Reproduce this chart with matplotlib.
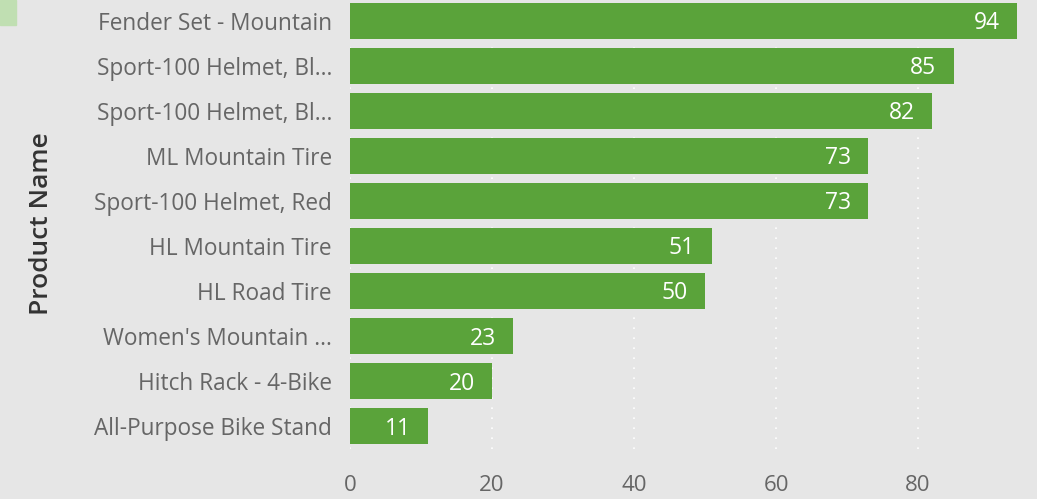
import matplotlib
matplotlib.use("Agg")
import matplotlib.pyplot as plt
import matplotlib.patches as mpatches

# data, top to bottom
products = [
    "Fender Set - Mountain",
    "Sport-100 Helmet, Bl...",
    "Sport-100 Helmet, Bl...",
    "ML Mountain Tire",
    "Sport-100 Helmet, Red",
    "HL Mountain Tire",
    "HL Road Tire",
    "Women's Mountain ...",
    "Hitch Rack - 4-Bike",
    "All-Purpose Bike Stand",
]
quantities = [94, 85, 82, 73, 73, 51, 50, 23, 20, 11]
x_ticks = [0, 20, 40, 60, 80]

BG = "#e6e6e6"
GREEN = "#5aa33a"
FONT = ["Open Sans", "DejaVu Sans"]

fig = plt.figure(figsize=(10.37, 4.99), dpi=100)
fig.patch.set_facecolor(BG)
ax = fig.add_axes([350 / 1037, 1 - 449 / 499, 687 / 1037, 451 / 499])
ax.set_facecolor(BG)

ypos = list(range(len(products)))
ax.barh(ypos, quantities, height=0.8, color=GREEN, zorder=2)
ax.set_ylim(len(products) - 0.5, -0.5)
ax.set_xlim(0, 96.76)

for y, v in zip(ypos, quantities):
    ax.text(v - 2.4, y + 0.05, str(v), ha="right", va="center",
            color="white", fontsize=16.5, family=FONT, zorder=3)

ax.set_yticks(ypos)
ax.set_yticklabels(products, family=FONT, fontsize=16.3, color="#666666")
ax.set_xticks(x_ticks)
ax.set_xticklabels([str(t) for t in x_ticks], family=FONT, fontsize=16, color="#666666")
ax.tick_params(axis="both", length=0)
ax.tick_params(axis="y", pad=13)
ax.tick_params(axis="x", pad=19)
ax.xaxis.grid(True, color="white", linestyle=(0, (1, 5)), linewidth=1.2, zorder=1)
for s in ax.spines.values():
    s.set_visible(False)

ax.set_ylabel("Product Name", family=FONT, fontsize=19, color="#333333",
              fontweight="semibold")
ax.yaxis.set_label_coords(-0.431, 0.5)

# small swatch top-left
fig.patches.append(mpatches.Rectangle((0, 1 - 25 / 499), 16 / 1037, 25 / 499,
                                      transform=fig.transFigure, color="#c0dfb2"))

fig.savefig("out.png", dpi=100, facecolor=BG)
